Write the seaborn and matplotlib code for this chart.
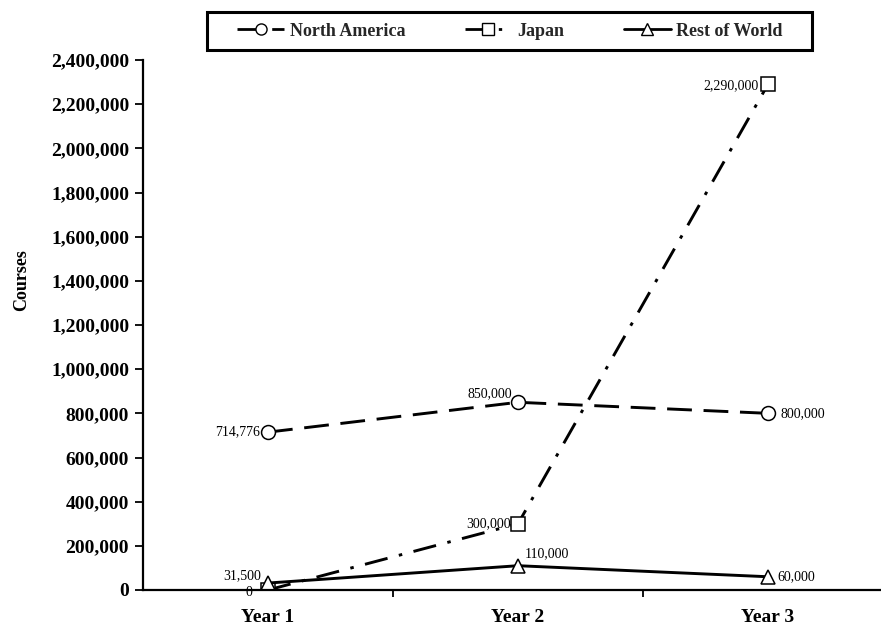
import matplotlib
matplotlib.use("Agg")
import matplotlib.pyplot as plt
from matplotlib.lines import Line2D
from matplotlib.patches import Rectangle
from matplotlib.ticker import FuncFormatter, FixedLocator
import numpy as np
import pandas as pd
import seaborn as sns

# Course counts by year and region
years = ["Year 1", "Year 2", "Year 3"]
north_america = [714776, 850000, 800000]
japan = [0, 300000, 2290000]
rest_of_world = [31500, 110000, 60000]
regions = ["North America", "Japan", "Rest of World"]
y_ticks = list(range(0, 2400001, 200000))

series = {"North America": north_america, "Japan": japan, "Rest of World": rest_of_world}
df = pd.DataFrame(
    [(r, i, v) for r in regions for i, v in enumerate(series[r])],
    columns=["region", "pos", "courses"],
)

sns.set_theme(style="white")
plt.rcParams["font.family"] = ["Liberation Serif", "DejaVu Serif"]

W, H = 881, 629
fig = plt.figure(figsize=(W / 100, H / 100), dpi=100)
ax = fig.add_axes([143 / W, 39 / H, 750 / W, 530 / H])

line_styles = {
    "North America": dict(marker="o", dashes=(8.5, 4)),
    "Japan": dict(marker="s", dashes=(8, 4, 1.2, 4)),
    "Rest of World": dict(marker="^", dashes=""),
}

sns.lineplot(
    data=df, x="pos", y="courses", hue="region", style="region",
    hue_order=regions, style_order=regions,
    palette={r: "black" for r in regions},
    markers={r: line_styles[r]["marker"] for r in regions},
    dashes={r: line_styles[r]["dashes"] for r in regions},
    linewidth=2.1, markersize=10, markerfacecolor="white",
    markeredgecolor="black", markeredgewidth=1.1,
    legend=False, ax=ax,
)

ax.set_xlim(-0.5, 2.5)
ax.set_ylim(0, 2400000)
ax.set_xticks(range(len(years)))
ax.set_xticklabels(years, fontsize=14, fontweight="bold")
ax.xaxis.set_minor_locator(FixedLocator([0.5, 1.5]))
ax.tick_params(axis="x", which="major", length=0, pad=14, colors="black")
ax.tick_params(axis="x", which="minor", bottom=True, length=5, width=1.3, direction="out", color="black")
ax.set_yticks(y_ticks)
ax.yaxis.set_major_formatter(FuncFormatter(lambda v, p: f"{int(v):,}"))
ax.tick_params(axis="y", which="major", left=True, length=6, width=1.3, pad=4, colors="black")
for lab in ax.get_yticklabels():
    lab.set_fontweight("bold")
    lab.set_fontsize(14)

ax.set_xlabel("")
ax.set_ylabel("Courses", fontsize=13, fontweight="bold", color="black")
ax.yaxis.set_label_coords(-0.151, 0.585)

for side in ["top", "right"]:
    ax.spines[side].set_visible(False)
for side in ["left", "bottom"]:
    ax.spines[side].set_color("black")
    ax.spines[side].set_linewidth(1.6)

# Value labels next to each point
offsets = {
    "North America": [(-6, 0, "right"), (-4, 6, "right"), (9, 0, "left")],
    "Japan": [(-11, -2, "right"), (-5, 0, "right"), (-7, -1, "right")],
    "Rest of World": [(-5, 5, "right"), (5, 9, "left"), (7, 0, "left")],
}
for r in regions:
    for i, v in enumerate(series[r]):
        dx, dy, ha = offsets[r][i]
        ax.annotate(f"{v:,}", (i, v), xytext=(dx, dy), textcoords="offset points",
                    ha=ha, va="center", fontsize=10, color="black", zorder=5)

# Legend entries in a single row inside a framed box above the plot
handles = [
    Line2D([], [], color="black", linewidth=2.0, marker=line_styles[r]["marker"],
           markersize=8, markerfacecolor="white", markeredgecolor="black",
           markeredgewidth=1.0,
           linestyle=(0, line_styles[r]["dashes"]) if line_styles[r]["dashes"] else "-")
    for r in regions
]
fig.legend(handles, regions, loc="center", bbox_to_anchor=(510 / W, 1 - 31 / H),
           ncol=3, frameon=False, handlelength=2.6,
           columnspacing=3.3, handletextpad=0.3, borderpad=0.3,
           prop={"weight": "bold", "size": 13})
fig.add_artist(Rectangle((207 / W, 1 - 50 / H), 605 / W, 38 / H,
                         transform=fig.transFigure, fill=False,
                         edgecolor="black", linewidth=2.2))

fig.savefig("out.png", dpi=100, facecolor="white")
